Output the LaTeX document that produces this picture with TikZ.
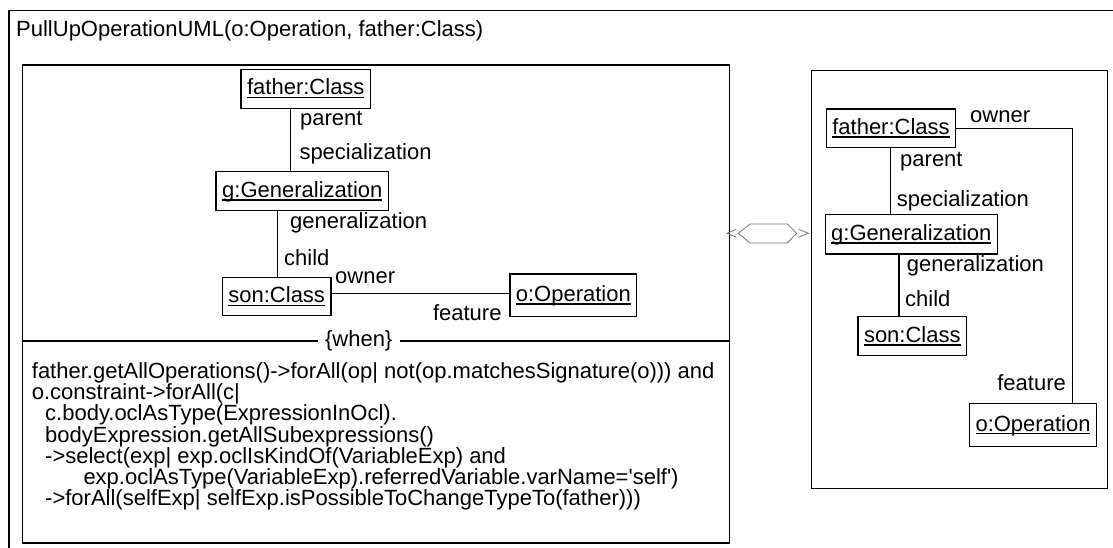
\documentclass[tikz,border=0pt]{standalone}
\usepackage{fontspec}
\newfontfamily\umlfont{Liberation Sans}
% underlined object name, as UML instance boxes print them
\newcommand\objname[1]{\setbox0\hbox{#1}\rlap{\rule[-3.4pt]{\wd0}{1.4pt}}\box0}
\tikzset{
  txt/.style={font=\umlfont\fontsize{22}{26}\selectfont},
  obj/.style={txt, draw, line width=1.4pt, inner xsep=6pt, inner ysep=0pt,
              text height=16pt, text depth=4pt},
  lbl/.style={txt, inner sep=0pt},
  link/.style={line width=1.4pt},
  frame/.style={line width=1.5pt},
  rule/.style={draw=black!55, line width=0.8pt, line join=miter},
}
\begin{document}
\begin{tikzpicture}[x=1pt, y=-1pt]
\useasboundingbox (0,0) rectangle (1113,547);
\clip (0,0) rectangle (1113,547);

% outer frame and title
\draw[frame] (9,560) -- (9,10.5) -- (1130,10.5);
\node[lbl, anchor=base west] (title) at (16,36.5) {PullUpOperationUML(o:Operation, father:Class)};

% ---------- left-hand side ----------
\coordinate (lhsNW) at (22.7,65);
\coordinate (lhsSE) at (729.5,543.2);
\draw[frame] (lhsNW) rectangle (lhsSE);

\node[obj, minimum height=39pt]   (lfather) at (305.8,88.8)  {\objname{father:Class}};
\node[obj, minimum height=39pt]   (lgen)    at (302.3,191.2) {\objname{g:Generalization}};
\node[obj, minimum height=38.4pt] (lson)    at (276.7,296.5) {\objname{son:Class}};
\node[obj, minimum height=42.7pt] (lop)     at (573.3,295.3) {\objname{o:Operation}};

\coordinate (lx1) at (290.7,0);
\coordinate (lx2) at (277.3,0);
\coordinate (ly1) at (0,293.3);
\draw[link] (lfather.south -| lx1) -- (lgen.north -| lx1);
\draw[link] (lgen.south -| lx2) -- (lson.north -| lx2);
\draw[link] (lson.east |- ly1) -- (lop.west |- ly1);

\node[lbl, anchor=base west] (lparent) at (300,125)     {parent};
\node[lbl, anchor=base west] (lspec)   at (299.3,159.3) {specialization};
\node[lbl, anchor=base west] (lgenl)   at (290,228.3)   {generalization};
\node[lbl, anchor=base west] (lchild)  at (284,265)     {child};
\node[lbl, anchor=base west] (lowner)  at (335,283.3)   {owner};
\node[lbl, anchor=base east] (lfeat)   at (501.7,320)   {feature};

% when-compartment
\node[lbl, inner xsep=7pt] (when) at (358.7,341) {\{when\}};
\draw[link] (lhsNW |- when) -- (when.west);
\draw[link] (when.east) -- (lhsSE |- when);

\node[lbl, anchor=base west] (ocl1) at (31.7,378.7) {father.getAllOperations()->forAll(op| not(op.matchesSignature(o))) and};
\node[lbl, anchor=base west] (ocl2) at (31.7,399.8) {o.constraint->forAll(c|};
\node[lbl, anchor=base west] (ocl3) at (45,420.9)   {c.body.oclAsType(ExpressionInOcl).};
\node[lbl, anchor=base west] (ocl4) at (45,442)     {bodyExpression.getAllSubexpressions()};
\node[lbl, anchor=base west] (ocl5) at (45,463.1)   {->select(exp| exp.oclIsKindOf(VariableExp) and};
\node[lbl, anchor=base west] (ocl6) at (83.3,484.2) {exp.oclAsType(VariableExp).referredVariable.varName='self')};
\node[lbl, anchor=base west] (ocl7) at (45,505.3)   {->forAll(selfExp| selfExp.isPossibleToChangeTypeTo(father)))};

% ---------- transformation symbol ----------
\draw[rule] (736.5,229.3) -- (727,233.3) -- (736.5,237.3);
\draw[rule] (738.3,233.3) -- (750,224) -- (787.3,224) -- (796.7,233.3)
            -- (787.3,243) -- (750,243) -- cycle;
\draw[rule] (798.5,229.3) -- (808.5,233.3) -- (798.5,237.3);

% ---------- right-hand side ----------
\coordinate (rhsNW) at (811.7,70.7);
\coordinate (rhsSE) at (1107.3,488.3);
\draw[frame] (rhsNW) rectangle (rhsSE);

\node[obj, minimum height=38.3pt] (rfather) at (891,128.2)   {\objname{father:Class}};
\node[obj, minimum height=39.7pt] (rgen)    at (911.3,234.2) {\objname{g:Generalization}};
\node[obj, minimum height=39pt]   (rson)    at (912.3,336.2) {\objname{son:Class}};
\node[obj, minimum height=43.4pt] (rop)     at (1033,425)    {\objname{o:Operation}};

\coordinate (rx1) at (890.7,0);
\coordinate (rx2) at (899,0);
\coordinate (rx3) at (1072.7,0);
\coordinate (ry1) at (0,128.3);
\draw[link] (rfather.south -| rx1) -- (rgen.north -| rx1);
\draw[link] (rgen.south -| rx2) -- (rson.north -| rx2);
\draw[link] (rfather.east |- ry1) -| (rop.north -| rx3);

\node[lbl, anchor=base west] (rowner)  at (970,122.7)   {owner};
\node[lbl, anchor=base west] (rparent) at (900,166.7)   {parent};
\node[lbl, anchor=base west] (rspec)   at (896.7,206.7) {specialization};
\node[lbl, anchor=base west] (rgenl)   at (906.7,271.7) {generalization};
\node[lbl, anchor=base west] (rchild)  at (905,306.7)   {child};
\node[lbl, anchor=base east] (rfeat)   at (1066,390)    {feature};
\end{tikzpicture}
\end{document}
